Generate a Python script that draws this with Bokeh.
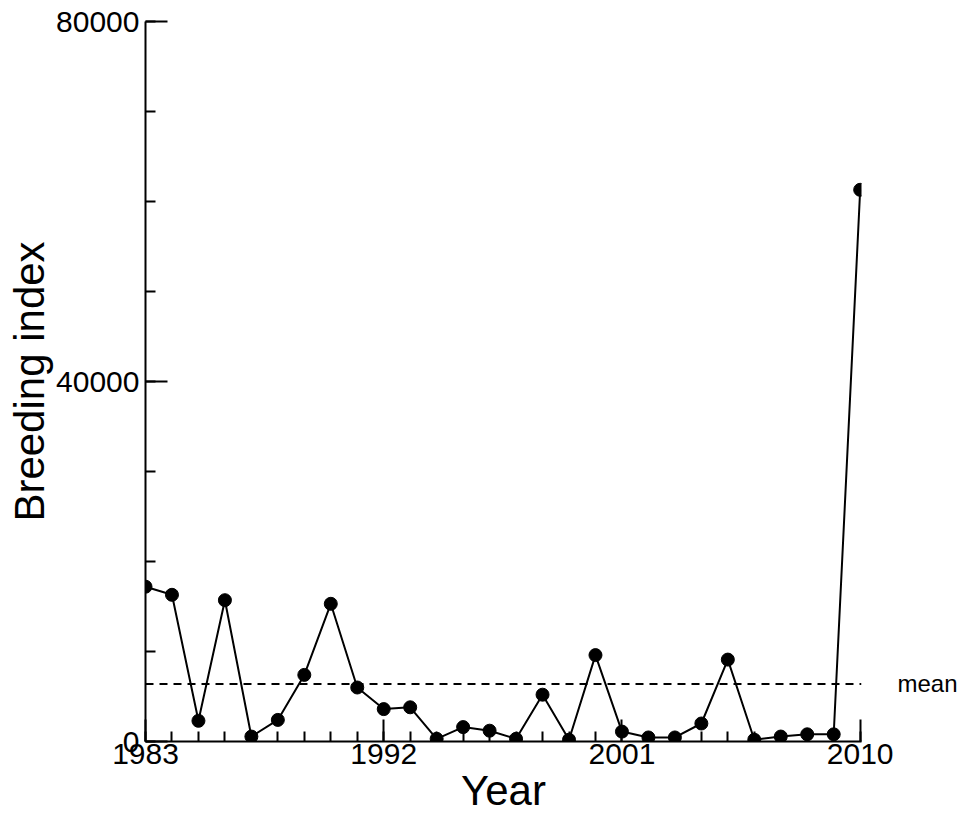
from bokeh.plotting import figure
from bokeh.models import FixedTicker, Span, LinearAxis, Range1d
from bokeh.embed import file_html
from bokeh.resources import INLINE

# breeding index per year
years = list(range(1983, 2011))
index = [17200, 16300, 2300, 15700, 550, 2400, 7400, 15300, 6000, 3600,
         3800, 300, 1600, 1200, 300, 5200, 200, 9600, 1100, 450,
         450, 2000, 9100, 200, 550, 800, 800, 61300]
mean_value = 6400
x_ticks = [1983, 1992, 2001, 2010]
y_ticks = [0, 40000, 80000]

font = "Liberation Sans"

p = figure(width=960, height=820, output_backend="svg", toolbar_location=None,
           x_range=Range1d(1983, 2010.05), y_range=Range1d(0, 80000),
           min_border_left=145, min_border_top=21, min_border_right=0, min_border_bottom=79)
p.outline_line_color = None
p.grid.grid_line_color = None

p.xaxis[0].ticker = FixedTicker(ticks=x_ticks, minor_ticks=years)
p.yaxis[0].ticker = FixedTicker(ticks=y_ticks, minor_ticks=list(range(0, 80001, 10000)))
for ax in (p.xaxis[0], p.yaxis[0]):
    ax.axis_line_width = 2
    ax.major_tick_line_width = 2
    ax.minor_tick_line_width = 2
    ax.major_tick_in = 22
    ax.major_tick_out = 0
    ax.minor_tick_in = 10
    ax.minor_tick_out = 0
    ax.major_label_text_font = font
    ax.major_label_text_font_size = "30px"
    ax.major_label_text_color = "black"
    ax.axis_label_text_font = font
    ax.axis_label_text_font_size = "42px"
    ax.axis_label_text_font_style = "normal"
    ax.axis_label_text_color = "black"
    ax.axis_line_color = "black"
    ax.major_tick_line_color = "black"
    ax.minor_tick_line_color = "black"
p.xaxis.axis_label = "Year"
p.yaxis.axis_label = "Breeding index"
p.xaxis.major_label_standoff = 2
p.xaxis.axis_label_standoff = 0
p.yaxis.major_label_standoff = 6
p.yaxis.axis_label_standoff = 0
p.yaxis.major_label_orientation = "horizontal"

p.add_layout(Span(location=mean_value, dimension="width", line_color="black",
                  line_width=2, line_dash="8 6"))

# "mean" label sits right of the frame: an axis with a single tick
mean_axis = LinearAxis(ticker=FixedTicker(ticks=[mean_value]),
                       major_label_overrides={mean_value: "mean"},
                       axis_line_color=None, major_tick_line_color=None,
                       minor_tick_line_color=None, major_label_standoff=30,
                       major_label_text_font=font, major_label_text_font_size="24px",
                       major_label_text_color="black")
p.add_layout(mean_axis, "right")

p.line(years, index, line_color="black", line_width=2)
p.scatter(years, index, size=13, color="black")

open("out.html", "w").write(file_html(p, INLINE))
